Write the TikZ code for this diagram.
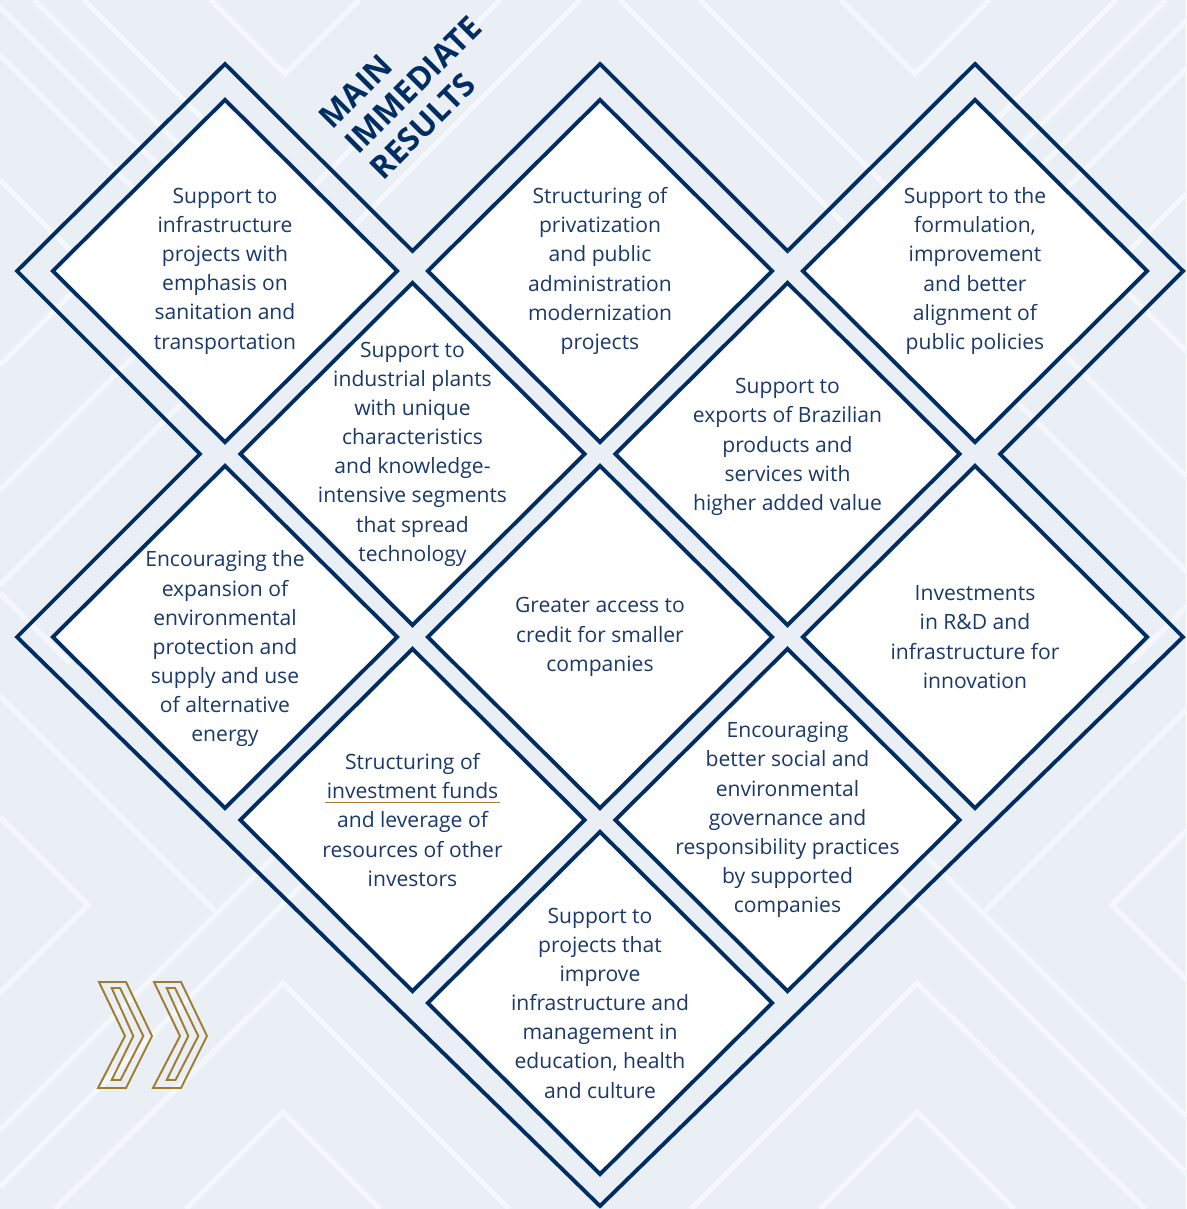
\documentclass[tikz,border=0pt]{standalone}
\usepackage{fontspec}
\setmainfont{Open Sans}
\usetikzlibrary{shapes.geometric}

\definecolor{bgblue}{RGB}{234,239,246}
\definecolor{stripe}{RGB}{244,247,251}
\definecolor{navy}{RGB}{0,45,98}
\definecolor{inknavy}{RGB}{26,57,106}
\definecolor{gold}{RGB}{160,125,45}

\newlength\ulwidth
\newcommand\goldunder[1]{\settowidth{\ulwidth}{#1}\rlap{\hspace{-1pt}\color{gold}\rule[-2.6pt]{\dimexpr\ulwidth+2pt\relax}{0.8pt}}#1}

\begin{document}
\begin{tikzpicture}[
    x=0.02cm, y=-0.02cm,
    cell/.style={diamond, draw=navy, fill=white, line width=2.2pt, minimum width=6.92cm, minimum height=6.88cm, inner sep=0pt},
    celltext/.style={align=center, text=inknavy, inner sep=0pt, font=\fontsize{12}{16.6}\selectfont},
    band/.style={draw=navy, line width=2.2pt, line join=miter},
    stripeline/.style={draw=stripe, line width=3pt},
    chevron/.style={draw=gold, line width=1.1pt}
]
    \fill[bgblue] (0,0) rectangle (1186,1209);
    \useasboundingbox (0,0) rectangle (1186,1209);

    \def\stripeset{
        \draw[stripeline] (211,0) -- (285,74) -- (359,0);
        \draw[stripeline] (0,7) -- (220,227);
        \draw[stripeline] (34,0) -- (250,216);
        \draw[stripeline] (84,0) -- (290,206);
        \draw[stripeline] (0,55) -- (200,255);
        \draw[stripeline] (0,180) -- (100,280);
        \draw[stripeline] (0,365) -- (110,255);
        \draw[stripeline] (0,490) -- (170,320);
        \draw[stripeline] (0,585) -- (220,365);
        \draw[stripeline] (0,593) -- (70,663);
        \draw[stripeline] (500,0) -- (300,200);
        \draw[stripeline] (580,0) -- (330,250);
        \draw[stripeline] (0,817) -- (88,905) -- (0,993);
        \draw[stripeline] (0,696) -- (217,913);
        \draw[stripeline] (0,1130) -- (290,840);
        \draw[stripeline] (0,1187) -- (310,877);
        \draw[stripeline] (55,1209) -- (283,983) -- (509,1209);
        \draw[stripeline] (186,1209) -- (283,1112) -- (380,1209);
    }
    \stripeset
    \begin{scope}[shift={(1200,0)}, xscale=-1]
        \stripeset
    \end{scope}

    \draw[band] (225,64) -- (412.5,251) -- (600,64) -- (787.5,251) -- (975,64) -- (1183,271)
        -- (1000,454) -- (1183,637) -- (600,1206) -- (17,637) -- (200,454) -- (17,271) -- cycle;

    \node[cell] (infra) at (225,271) {};
    \node[cell] (privat) at (600,271) {};
    \node[cell] (policy) at (975,271) {};
    \node[cell] (industry) at (412.5,454) {};
    \node[cell] (exports) at (787.5,454) {};
    \node[cell] (environ) at (225,637) {};
    \node[cell] (credit) at (600,637) {};
    \node[cell] (innov) at (975,637) {};
    \node[cell] (funds) at (412.5,820) {};
    \node[cell] (esg) at (787.5,820) {};
    \node[cell] (social) at (600,1003) {};

    \node[celltext] (infra-t) at (infra) {Support to\\infrastructure\\projects with\\emphasis on\\sanitation and\\transportation};
    \node[celltext] (privat-t) at (privat) {Structuring of\\privatization\\and public\\administration\\modernization\\projects};
    \node[celltext] (policy-t) at (policy) {Support to the\\formulation,\\improvement\\and better\\alignment of\\public policies};
    \node[celltext] (industry-t) at (industry) {Support to\\industrial plants\\with unique\\characteristics\\and knowledge-\\intensive segments\\that spread\\technology};
    \node[celltext] (exports-t) at ([yshift=0.14cm]exports) {Support to\\exports of Brazilian\\products and\\services with\\higher added value};
    \node[celltext] (environ-t) at ([yshift=-0.24cm]environ) {Encouraging the\\expansion of\\environmental\\protection and\\supply and use\\of alternative\\energy};
    \node[celltext] (credit-t) at (credit) {Greater access to\\credit for smaller\\companies};
    \node[celltext] (innov-t) at (innov) {Investments\\in R\&D and\\infrastructure for\\innovation};
    \node[celltext] (funds-t) at (funds) {Structuring of\\\goldunder{investment funds}\\and leverage of\\resources of other\\investors};
    \node[celltext] (esg-t) at (esg) {Encouraging\\better social and\\environmental\\governance and\\responsibility practices\\by supported\\companies};
    \node[celltext] (social-t) at (social) {Support to\\projects that\\improve\\infrastructure and\\management in\\education, health\\and culture};

    \node[rotate=45, anchor=west, align=left, inner sep=0pt, text=navy,
        font=\bfseries\fontsize{18}{20.5}\selectfont] (title) at (350,148) {MAIN\\IMMEDIATE\\RESULTS};

    \foreach \dx in {0,55} {
        \draw[chevron, shift={(\dx,0)}] (99,982) -- (126,982) -- (152,1036) -- (126,1088) -- (98,1088) -- (125,1036) -- cycle;
        \draw[chevron, shift={(\dx,0)}] (111.7,988) -- (120,988) -- (143.3,1036) -- (120.5,1080) -- (111.7,1080) -- (133.3,1036) -- cycle;
    }
\end{tikzpicture}
\end{document}
